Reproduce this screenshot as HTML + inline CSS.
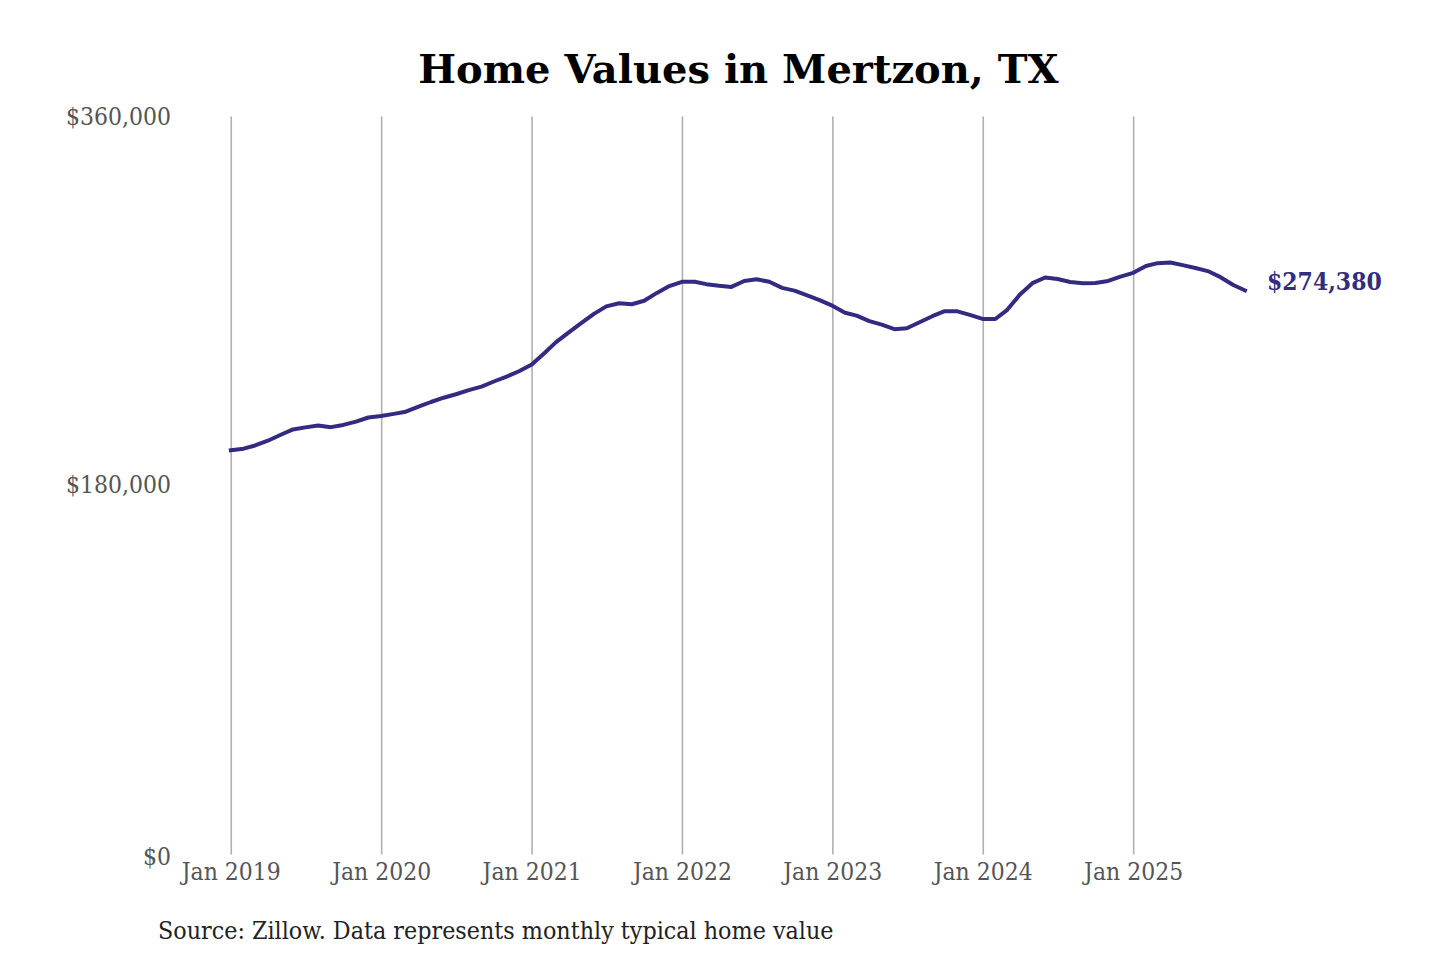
<!DOCTYPE html>
<html><head><meta charset="utf-8"><title>Home Values in Mertzon, TX</title>
<style>
html,body{margin:0;padding:0;background:#fff;width:1440px;height:960px;overflow:hidden}
svg{display:block}
.t{font-family:"DejaVu Serif","Liberation Serif",serif}
</style></head><body>
<svg width="1440" height="960" viewBox="0 0 1440 960">
<rect width="1440" height="960" fill="#fff"/>
<text class="t" x="738.4" y="82.8" text-anchor="middle" font-weight="bold" font-size="40" fill="#000">Home Values in Mertzon, TX</text>
<g stroke="#b0b0b0" stroke-width="1.6" fill="none">
<line x1="231.25" y1="116.5" x2="231.25" y2="854.5"/>
<line x1="381.65" y1="116.5" x2="381.65" y2="854.5"/>
<line x1="532.05" y1="116.5" x2="532.05" y2="854.5"/>
<line x1="682.45" y1="116.5" x2="682.45" y2="854.5"/>
<line x1="832.85" y1="116.5" x2="832.85" y2="854.5"/>
<line x1="983.25" y1="116.5" x2="983.25" y2="854.5"/>
<line x1="1133.65" y1="116.5" x2="1133.65" y2="854.5"/>
</g>
<g class="t" font-size="22" fill="#555" text-anchor="end">
<text transform="translate(171 125.2) scale(1 1.06)">$360,000</text>
<text transform="translate(171 493.2) scale(1 1.06)">$180,000</text>
<text transform="translate(171 864.6) scale(1 1.06)">$0</text>
</g>
<g class="t" font-size="22" fill="#555" text-anchor="middle">
<text transform="translate(231.3 880) scale(1 1.06)">Jan 2019</text>
<text transform="translate(381.7 880) scale(1 1.06)">Jan 2020</text>
<text transform="translate(532.1 880) scale(1 1.06)">Jan 2021</text>
<text transform="translate(682.4 880) scale(1 1.06)">Jan 2022</text>
<text transform="translate(832.8 880) scale(1 1.06)">Jan 2023</text>
<text transform="translate(983.2 880) scale(1 1.06)">Jan 2024</text>
<text transform="translate(1133.6 880) scale(1 1.06)">Jan 2025</text>
</g>
<path d="M230.84,450.28 L243.60,448.66 L255.13,445.47 L267.89,440.72 L280.24,435.00 L293.00,429.44 L305.35,427.35 L318.11,425.46 L330.88,427.15 L343.23,424.94 L355.99,421.59 L368.34,417.49 L381.10,416.01 L393.86,413.89 L405.80,411.66 L418.56,406.70 L430.91,402.00 L443.68,397.70 L456.03,394.26 L468.79,390.20 L481.55,386.60 L493.90,381.50 L506.66,376.63 L519.01,371.26 L531.78,364.50 L544.54,353.00 L556.06,342.12 L568.83,332.30 L581.18,323.21 L593.94,313.86 L606.29,306.39 L619.05,303.28 L631.81,304.27 L644.16,300.77 L656.93,292.89 L669.28,286.07 L682.04,281.83 L694.80,281.75 L706.33,284.16 L719.09,285.80 L731.44,286.90 L744.20,281.00 L756.55,279.30 L769.31,281.80 L782.08,287.87 L794.43,290.64 L807.19,295.34 L819.54,300.08 L832.30,305.65 L845.06,312.78 L856.59,315.63 L869.35,321.13 L881.70,324.69 L894.46,329.22 L906.81,328.20 L919.58,322.30 L932.34,316.20 L944.69,311.20 L957.45,311.30 L969.80,314.86 L982.56,318.96 L995.33,319.00 L1007.26,309.80 L1020.03,294.40 L1032.38,283.20 L1045.14,277.50 L1057.49,279.00 L1070.25,282.01 L1083.01,283.16 L1095.36,282.91 L1108.13,280.99 L1120.48,276.55 L1133.24,272.84 L1146.00,265.95 L1157.53,263.18 L1170.29,262.44 L1182.64,265.12 L1195.40,268.05 L1207.75,271.07 L1220.51,277.17 L1233.28,285.00 L1245.00,290.40" fill="none" stroke="#332b82" stroke-width="4" stroke-linejoin="round" stroke-linecap="square"/>
<text class="t" transform="translate(1267 289.7) scale(1 1.06)" font-weight="bold" font-size="22" fill="#332d80">$274,380</text>
<g class="t" font-size="22.3" fill="#222">
<text transform="translate(158 939) scale(1 1.06)">Source: Zillow. Data represents monthly typical home value</text>
</g>
</svg>
</body></html>
